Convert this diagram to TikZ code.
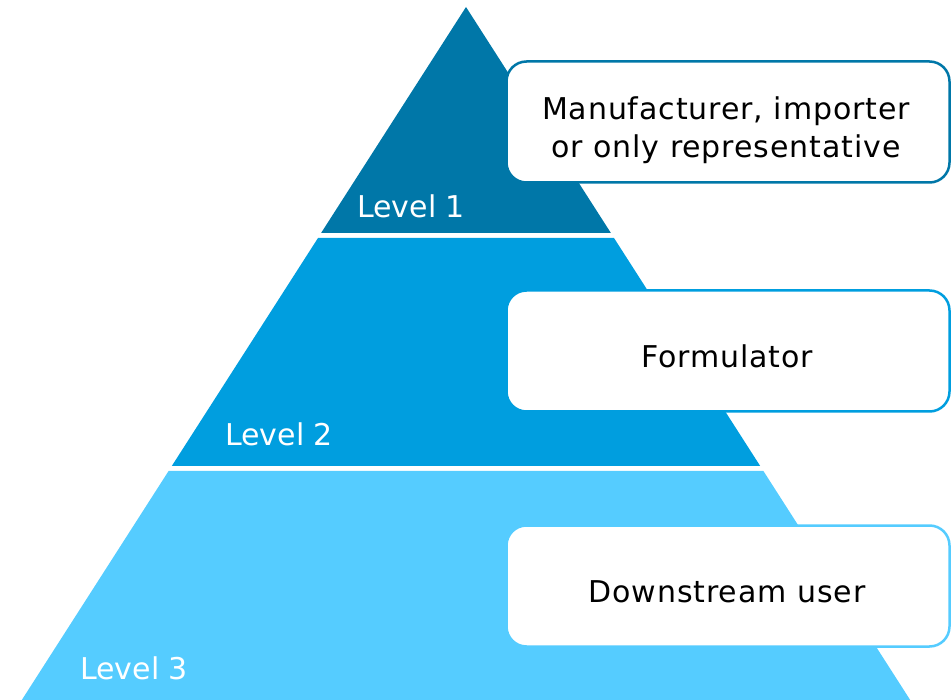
\documentclass[tikz,border=0pt]{standalone}
\usepackage{fontspec}
\setmainfont{DejaVu Sans}
\newfontfamily\widefont[LetterSpace=3]{DejaVu Sans}
\definecolor{lvA}{HTML}{0077A8}
\definecolor{lvB}{HTML}{009EDF}
\definecolor{lvC}{HTML}{55CCFF}
\begin{document}
\begin{tikzpicture}[x=1pt,y=-1pt,
  lvl/.style={text=white,font=\fontsize{30}{36}\selectfont,anchor=base west,inner sep=0pt},
  rolebox/.style={draw,line width=2.5pt,fill=white,rounded corners=20pt,minimum width=443pt,minimum height=121pt,inner sep=0pt},
  roletext/.style={font=\widefont\fontsize{30}{38}\selectfont,align=center,anchor=base,inner sep=0pt,text=black}]
\useasboundingbox (0,0) rectangle (951,700);
% pyramid levels
\fill[lvA] (466,7) -- (610.9,233) -- (321.1,233) -- cycle;
\fill[lvB] (318,238) -- (614,238) -- (760.2,466) -- (171.8,466) -- cycle;
\fill[lvC] (168.6,471) -- (763.4,471) -- (910.2,700) -- (21.8,700) -- cycle;
% level labels
\node[lvl] (l1) at (357,218) {Level 1};
\node[lvl] (l2) at (225,446) {Level 2};
\node[lvl] (l3) at (80,679) {Level 3};
% boxes
\node[rolebox,draw=lvA] (b1) at (728,122) {};
\node[rolebox,draw=lvB] (b2) at (728,351) {};
\node[rolebox,draw=lvC] (b3) at (728,586) {};
\node[roletext] (t1a) at (726,120) {Manufacturer, importer};
\node[roletext] (t1b) at (726,158) {or only representative};
\node[roletext] (t2) at (727,368) {Formulator};
\node[roletext] (t3) at (727,602) {Downstream user};
\end{tikzpicture}
\end{document}
